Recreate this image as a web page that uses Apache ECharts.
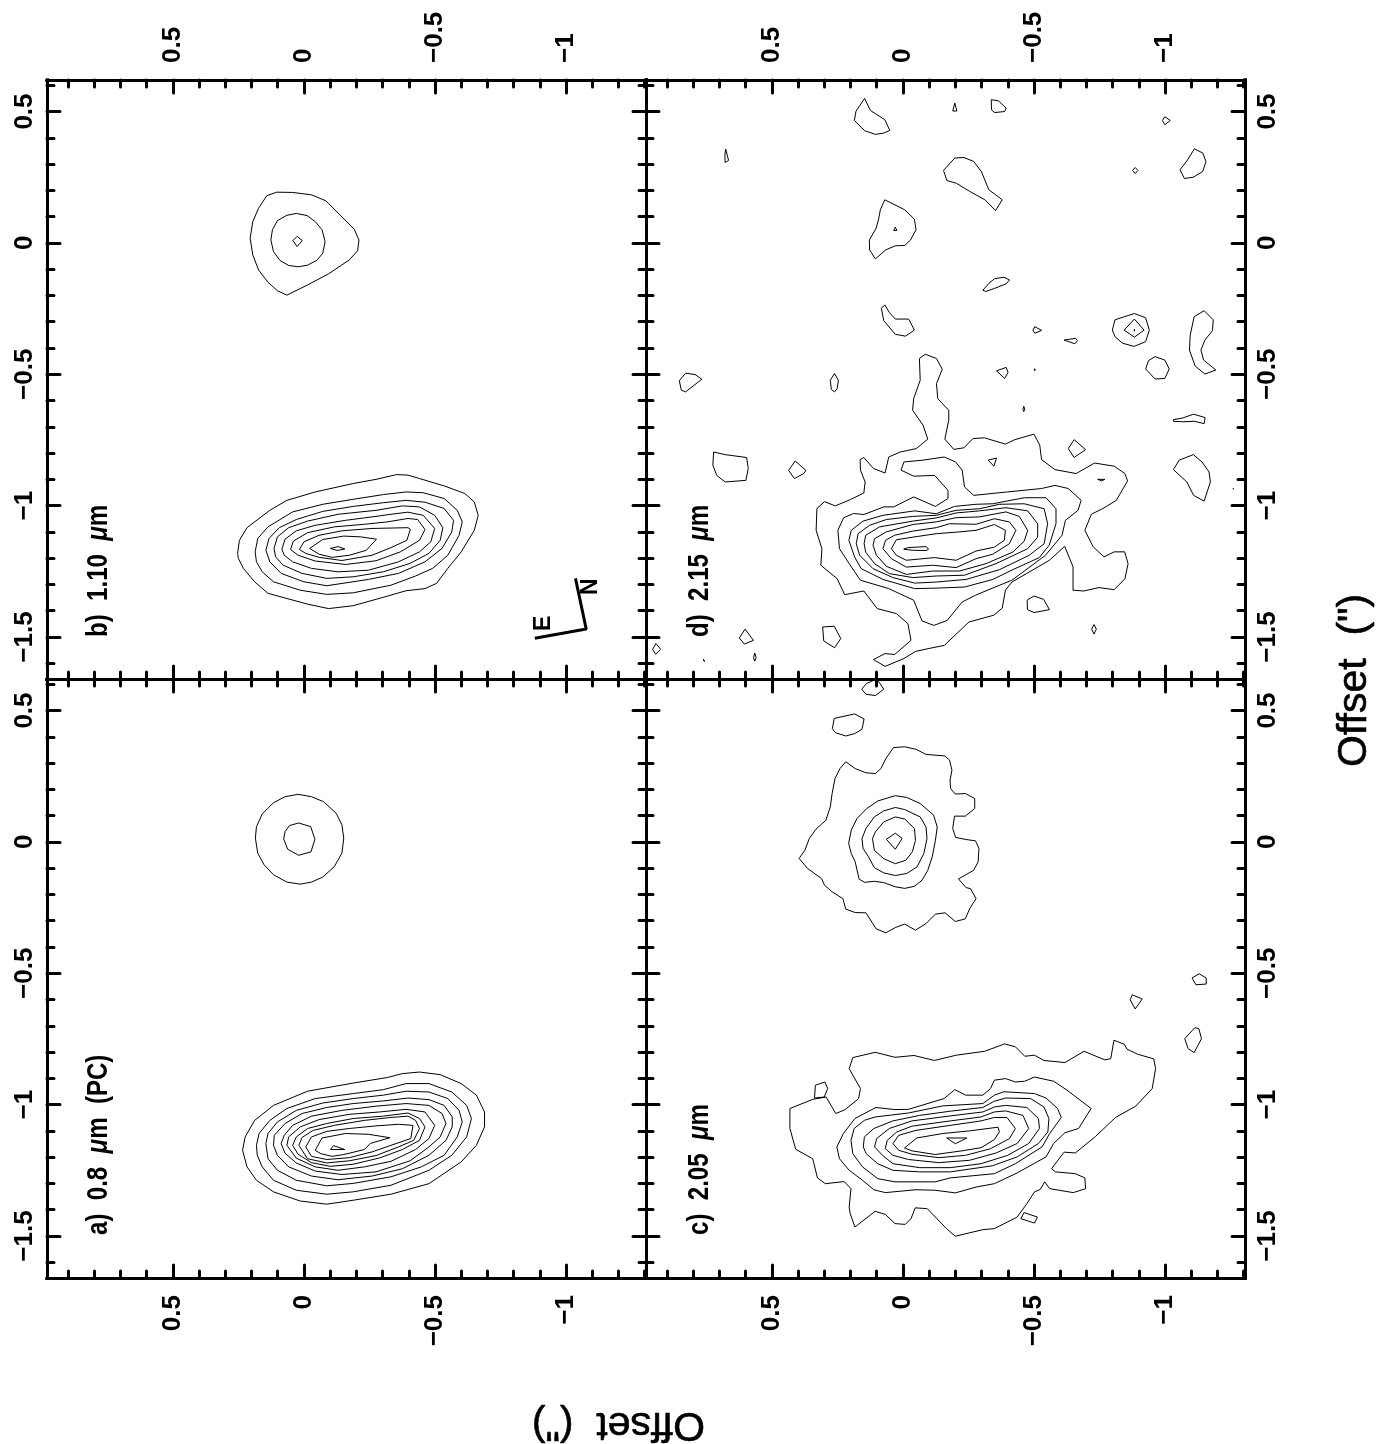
<!DOCTYPE html>
<html><head><meta charset="utf-8">
<style>html,body{margin:0;padding:0;background:#fff}#c{width:1377px;height:1444px}</style>
<script src="https://cdn.jsdelivr.net/npm/echarts@6/dist/echarts.min.js"></script>
</head><body><div id="c"></div>
<script>
// Tick values (arcseconds)
const xMajor=[0.5,0,-0.5,-1];
const yMajor=[0.5,0,-0.5,-1,-1.5];
const xMinor=[0.9,0.8,0.7,0.6,0.4,0.3,0.2,0.1,-0.1,-0.2,-0.3,-0.4,-0.6,-0.7,-0.8,-0.9,-1.1,-1.2,-1.3];
const yMinor=[0.6,0.4,0.3,0.2,0.1,-0.1,-0.2,-0.3,-0.4,-0.6,-0.7,-0.8,-0.9,-1.1,-1.2,-1.3,-1.4,-1.6];

// Panel a) 0.8 um (PC)
const a1=[[.022,.181],[.072,.172],[.116,.149],[.159,.106],[.181,.058],[.185,.014],[.176,-.043],[.152,-.087],[.116,-.125],[.065,-.153],[.014,-.161],[-.029,-.153],[-.072,-.134],[-.116,-.094],[-.145,-.043],[-.152,.014],[-.145,.065],[-.123,.109],[-.075,.153],[-.029,.172]];
const a2=[[.020,.072],[.055,.062],[.072,.039],[.077,.011],[.062,-.028],[.020,-.051],[-.027,-.038],[-.042,.010],[-.026,.058]];
const a3=[[.234,-1.174],[.224,-1.123],[.188,-1.060],[.116,-1.003],[-.014,-.949],[-.188,-.918],[-.318,-.897],[-.376,-.882],[-.441,-.876],[-.520,-.886],[-.600,-.920],[-.658,-.964],[-.689,-1.028],[-.689,-1.085],[-.658,-1.155],[-.600,-1.218],[-.477,-1.301],[-.332,-1.341],[-.188,-1.364],[-.087,-1.379],[.014,-1.367],[.116,-1.332],[.181,-1.288],[.217,-1.237]];
const a4=[[.181,-1.155],[.171,-1.110],[.130,-1.060],[.065,-1.015],[-.043,-.977],[-.188,-.958],[-.303,-.943],[-.390,-.920],[-.477,-.920],[-.564,-.952],[-.621,-1.003],[-.639,-1.053],[-.621,-1.123],[-.564,-1.193],[-.477,-1.250],[-.332,-1.307],[-.188,-1.332],[-.087,-1.341],[.029,-1.326],[.116,-1.288],[.159,-1.237],[.178,-1.193]];
const a5=[[.145,-1.148],[.137,-1.110],[.101,-1.066],[.029,-1.022],[-.072,-.994],[-.188,-.977],[-.303,-.964],[-.390,-.949],[-.477,-.952],[-.549,-.977],[-.592,-1.022],[-.604,-1.066],[-.585,-1.123],[-.535,-1.193],[-.448,-1.237],[-.332,-1.275],[-.188,-1.300],[-.087,-1.309],[.029,-1.288],[.101,-1.250],[.137,-1.206]];
const a6=[[.116,-1.155],[.113,-1.117],[.072,-1.072],[.007,-1.034],[-.087,-1.011],[-.188,-.996],[-.303,-.986],[-.397,-.975],[-.477,-.981],[-.535,-1.003],[-.566,-1.047],[-.566,-1.085],[-.542,-1.136],[-.477,-1.193],[-.376,-1.244],[-.260,-1.272],[-.130,-1.286],[-.029,-1.272],[.058,-1.237],[.101,-1.193]];
const a7=[[.087,-1.148],[.075,-1.117],[.043,-1.079],[-.029,-1.044],[-.145,-1.022],[-.275,-1.006],[-.390,-.996],[-.477,-1.003],[-.527,-1.034],[-.542,-1.072],[-.520,-1.123],[-.477,-1.161],[-.405,-1.214],[-.275,-1.256],[-.145,-1.266],[-.043,-1.253],[.029,-1.222],[.072,-1.185]];
const a8=[[.065,-1.155],[.058,-1.123],[.014,-1.085],[-.058,-1.057],[-.173,-1.037],[-.289,-1.028],[-.390,-1.018],[-.462,-1.028],[-.499,-1.079],[-.477,-1.129],[-.426,-1.171],[-.332,-1.216],[-.231,-1.237],[-.130,-1.250],[-.043,-1.237],[.029,-1.204]];
const a9=[[.043,-1.155],[.029,-1.123],[-.014,-1.091],[-.087,-1.072],[-.188,-1.053],[-.303,-1.044],[-.397,-1.032],[-.441,-1.053],[-.462,-1.085],[-.441,-1.136],[-.376,-1.171],[-.289,-1.203],[-.188,-1.227],[-.101,-1.235],[-.029,-1.221],[.022,-1.189]];
const a10=[[.019,-1.155],[.007,-1.125],[-.036,-1.098],[-.116,-1.079],[-.231,-1.060],[-.332,-1.049],[-.397,-1.044],[-.426,-1.060],[-.441,-1.091],[-.419,-1.136],[-.361,-1.161],[-.275,-1.194],[-.173,-1.214],[-.087,-1.222],[-.014,-1.206]];
const a11=[[-.007,-1.161],[-.029,-1.123],[-.087,-1.102],[-.173,-1.091],[-.275,-1.081],[-.361,-1.075],[-.416,-1.079],[-.408,-1.129],[-.332,-1.155],[-.260,-1.180],[-.173,-1.202],[-.087,-1.209],[-.029,-1.197]];
const a12=[[-.043,-1.174],[-.069,-1.127],[-.159,-1.110],[-.246,-1.113],[-.328,-1.126],[-.253,-1.148],[-.231,-1.171],[-.152,-1.190],[-.108,-1.197],[-.065,-1.187]];
const a13=[[-.101,-1.171],[-.113,-1.156],[-.156,-1.171]];
const contoursA=[a1,a2,a3,a4,a5,a6,a7,a8,a9,a10,a11,a12,a13];

// Panel b) 1.10 um
const b1=[[.065,-.199],[.101,-.182],[.137,-.150],[.173,-.103],[.195,-.046],[.205,.018],[.195,.081],[.173,.132],[.142,.179],[.104,.193],[.043,.192],[-.029,.183],[-.084,.160],[-.137,.107],[-.192,.052],[-.210,.011],[-.205,-.030],[-.173,-.065],[-.094,-.118],[-.014,-.160]];
const b2=[[.029,.112],[.065,.105],[.101,.085],[.120,.050],[.126,.011],[.116,-.033],[.091,-.067],[.058,-.086],[.022,-.091],[-.014,-.085],[-.051,-.065],[-.072,-.039],[-.081,.005],[-.069,.050],[-.043,.081],[-.012,.104]];
const b3=[[.026,.025],[.006,.009],[.026,-.014],[.042,.009]];
const b4=[[.253,-1.182],[.246,-1.132],[.217,-1.084],[.130,-1.018],[.065,-.980],[-.043,-.948],[-.188,-.916],[-.275,-.900],[-.354,-.882],[-.397,-.884],[-.441,-.897],[-.535,-.925],[-.614,-.954],[-.650,-.986],[-.665,-1.037],[-.650,-1.094],[-.600,-1.176],[-.549,-1.239],[-.506,-1.296],[-.462,-1.316],[-.390,-1.324],[-.303,-1.349],[-.188,-1.381],[-.094,-1.392],[-.014,-1.375],[.137,-1.334],[.188,-1.290],[.231,-1.239],[.250,-1.201]];
const b5=[[.186,-1.176],[.176,-1.125],[.137,-1.081],[.043,-1.024],[-.072,-.995],[-.188,-.976],[-.303,-.958],[-.390,-.948],[-.455,-.951],[-.535,-.973],[-.585,-1.018],[-.604,-1.062],[-.592,-1.113],[-.549,-1.189],[-.491,-1.239],[-.426,-1.268],[-.332,-1.303],[-.188,-1.332],[-.087,-1.338],[.014,-1.322],[.116,-1.290],[.159,-1.252],[.181,-1.214]];
const b6=[[.145,-1.170],[.133,-1.125],[.094,-1.084],[.029,-1.053],[-.072,-1.022],[-.188,-1.003],[-.303,-.989],[-.390,-.980],[-.462,-.987],[-.535,-1.011],[-.571,-1.056],[-.564,-1.100],[-.527,-1.163],[-.462,-1.214],[-.361,-1.258],[-.246,-1.281],[-.087,-1.305],[0,-1.290],[.087,-1.258],[.130,-1.214]];
const b7=[[.114,-1.163],[.101,-1.119],[.058,-1.084],[-.014,-1.059],[-.130,-1.033],[-.275,-1.018],[-.376,-1.001],[-.441,-1.005],[-.499,-1.037],[-.530,-1.084],[-.520,-1.132],[-.477,-1.182],[-.405,-1.220],[-.303,-1.252],[-.188,-1.271],[-.087,-1.277],[.007,-1.258],[.079,-1.227],[.108,-1.195]];
const b8=[[.084,-1.166],[.072,-1.128],[.029,-1.096],[-.043,-1.075],[-.159,-1.056],[-.275,-1.041],[-.332,-1.033],[-.397,-1.025],[-.455,-1.037],[-.499,-1.087],[-.484,-1.138],[-.441,-1.176],[-.361,-1.214],[-.246,-1.246],[-.130,-1.252],[-.029,-1.239],[.043,-1.214],[.075,-1.189]];
const b9=[[.051,-1.167],[.040,-1.135],[-.014,-1.103],[-.116,-1.081],[-.231,-1.071],[-.318,-1.062],[-.397,-1.049],[-.434,-1.053],[-.462,-1.091],[-.441,-1.132],[-.368,-1.176],[-.275,-1.210],[-.159,-1.224],[-.043,-1.211],[.022,-1.189]];
const b10=[[.017,-1.167],[0,-1.138],[-.058,-1.113],[-.145,-1.096],[-.260,-1.087],[-.397,-1.084],[-.406,-1.090],[-.393,-1.132],[-.332,-1.160],[-.260,-1.189],[-.145,-1.209],[-.058,-1.197],[-.007,-1.182]];
const b11=[[-.022,-1.163],[-.072,-1.129],[-.152,-1.116],[-.217,-1.119],[-.277,-1.128],[-.238,-1.170],[-.173,-1.189],[-.108,-1.197],[-.058,-1.185]];
const b12=[[-.101,-1.163],[-.130,-1.156],[-.156,-1.165],[-.127,-1.171]];
const contoursB=[b1,b2,b3,b4,b5,b6,b7,b8,b9,b10,b11,b12];
const compass=[[-.881,-1.505],[-1.077,-1.470],[-1.036,-1.277]];

// Panel c) 2.05 um
const c1=[[.139,.603],[.124,.609],[.102,.619],[.092,.609],[.073,.581],[.105,.557],[.141,.562],[.157,.581]];
const c2=[[.262,.470],[.184,.487],[.148,.468],[.156,.429],[.184,.412],[.218,.403],[.258,.416],[.269,.431]];
const c3=[[.036,.359],[-.007,.362],[-.051,.352],[-.088,.333],[-.161,.327],[-.178,.311],[-.187,.273],[-.180,.235],[-.182,.203],[-.200,.182],[-.238,.184],[-.274,.165],[-.274,.127],[-.238,.098],[-.197,.098],[-.190,.051],[-.201,.017],[-.241,.009],[-.277,.004],[-.290,-.025],[-.287,-.076],[-.270,-.108],[-.212,-.141],[-.241,-.174],[-.258,-.178],[-.279,-.216],[-.255,-.254],[-.238,-.293],[-.200,-.303],[-.161,-.270],[-.124,-.275],[-.088,-.311],[-.048,-.336],[-.007,-.313],[.029,-.326],[.065,-.346],[.102,-.331],[.141,-.270],[.182,-.269],[.218,-.256],[.229,-.216],[.270,-.190],[.299,-.165],[.310,-.140],[.364,-.101],[.396,-.063],[.374,-.032],[.357,.013],[.332,.048],[.294,.082],[.277,.133],[.270,.184],[.259,.241],[.240,.279],[.218,.305],[.182,.279],[.141,.263],[.105,.260],[.084,.279],[.065,.317]];
const c4=[[.029,.176],[-.015,.169],[-.066,.146],[-.117,.102],[-.131,.057],[-.124,.006],[-.112,-.057],[-.095,-.108],[-.073,-.146],[-.044,-.169],[-.007,-.177],[.029,-.171],[.073,-.155],[.109,-.150],[.146,-.154],[.167,-.142],[.182,-.076],[.197,-.044],[.207,-.006],[.197,.045],[.175,.089],[.138,.127],[.095,.156]];
const c5=[[.029,.131],[-.007,.123],[-.066,.095],[-.088,.057],[-.092,.013],[-.080,-.044],[-.054,-.095],[-.015,-.120],[.029,-.128],[.073,-.118],[.109,-.098],[.131,-.057],[.152,-.025],[.156,.013],[.141,.051],[.109,.095],[.073,.118]];
const c6=[[.029,.095],[-.007,.087],[-.044,.051],[-.048,.006],[-.036,-.038],[-.011,-.070],[.029,-.083],[.073,-.064],[.109,-.032],[.116,.013],[.105,.038],[.073,.076]];
const c7=[[.029,.033],[.003,.013],[.029,-.028],[.063,.010]];
const c8=[[-.875,-.582],[-.913,-.598],[-.886,-.636],[-.867,-.601]];
const c9=[[-1.130,-.502],[-1.157,-.518],[-1.157,-.541],[-1.118,-.544],[-1.103,-.518]];
const c10=[[-1.114,-.707],[-1.129,-.711],[-1.139,-.749],[-1.111,-.802],[-1.088,-.787],[-1.075,-.749]];
const c11=[[.191,-.821],[.106,-.801],[.030,-.820],[-.042,-.813],[-.120,-.832],[-.203,-.812],[-.312,-.797],[-.388,-.769],[-.429,-.780],[-.465,-.816],[-.502,-.812],[-.538,-.832],[-.618,-.840],[-.691,-.797],[-.771,-.830],[-.793,-.825],[-.805,-.755],[-.844,-.770],[-.855,-.789],[-.895,-.808],[-.957,-.826],[-.964,-.863],[-.951,-.939],[-.888,-1.006],[-.811,-1.049],[-.735,-1.121],[-.658,-1.184],[-.615,-1.181],[-.567,-1.244],[-.582,-1.256],[-.658,-1.263],[-.694,-1.279],[-.697,-1.320],[-.650,-1.335],[-.560,-1.320],[-.541,-1.294],[-.524,-1.323],[-.502,-1.332],[-.473,-1.377],[-.436,-1.428],[-.349,-1.472],[-.305,-1.476],[-.200,-1.501],[-.166,-1.472],[-.093,-1.396],[-.047,-1.393],[-.031,-1.434],[-.009,-1.456],[.030,-1.453],[.067,-1.418],[.106,-1.406],[.183,-1.466],[.201,-1.415],[.205,-1.390],[.198,-1.320],[.224,-1.293],[.296,-1.301],[.326,-1.279],[.344,-1.206],[.409,-1.170],[.431,-1.091],[.431,-1.015],[.344,-.980],[.293,-.971],[.256,-1.034],[.220,-1.019],[.169,-.977],[.162,-.939],[.205,-.863]];
const c12=[[.297,-.914],[.287,-.939],[.300,-.971],[.337,-.975],[.334,-.926]];
const c13=[[-.462,-1.411],[-.513,-1.428],[-.502,-1.451],[-.450,-1.434]];
const c14=[[.103,-1.011],[.030,-1.019],[-.021,-1.018],[-.157,-.977],[-.198,-.943],[-.239,-.964],[-.305,-.964],[-.334,-.939],[-.349,-.907],[-.392,-.901],[-.429,-.914],[-.465,-.911],[-.502,-.895],[-.575,-.911],[-.626,-.945],[-.718,-1.015],[-.670,-1.091],[-.618,-1.107],[-.575,-1.148],[-.546,-1.199],[-.436,-1.260],[-.349,-1.301],[-.283,-1.313],[-.200,-1.336],[-.123,-1.326],[-.050,-1.324],[.067,-1.335],[.111,-1.324],[.154,-1.288],[.205,-1.250],[.242,-1.206],[.252,-1.161],[.227,-1.110],[.183,-1.053]];
const c15=[[.198,-1.136],[.186,-1.091],[.147,-1.060],[.106,-1.047],[-.021,-1.032],[-.152,-1.005],[-.305,-.996],[-.349,-.964],[-.385,-.951],[-.502,-.958],[-.546,-.975],[-.590,-1.015],[-.604,-1.049],[-.560,-1.110],[-.531,-1.161],[-.429,-1.225],[-.349,-1.263],[-.181,-1.279],[-.123,-1.294],[.030,-1.294],[.096,-1.282],[.154,-1.237],[.191,-1.187]];
const c16=[[.151,-1.161],[.147,-1.123],[.111,-1.091],[.038,-1.062],[-.064,-1.041],[-.181,-1.025],[-.305,-1.011],[-.349,-.987],[-.392,-.975],[-.487,-.977],[-.538,-1.009],[-.557,-1.053],[-.553,-1.104],[-.517,-1.148],[-.436,-1.199],[-.341,-1.233],[-.181,-1.256],[-.064,-1.256],[.038,-1.250],[.096,-1.225],[.140,-1.187]];
const c17=[[.108,-1.161],[.100,-1.129],[.052,-1.091],[-.035,-1.062],[-.181,-1.043],[-.305,-1.028],[-.349,-1.009],[-.392,-1.003],[-.473,-1.011],[-.517,-1.053],[-.521,-1.091],[-.480,-1.148],[-.400,-1.193],[-.298,-1.225],[-.181,-1.240],[-.064,-1.240],[.038,-1.225],[.078,-1.193]];
const c18=[[.067,-1.168],[.060,-1.136],[.023,-1.104],[-.035,-1.082],[-.181,-1.062],[-.298,-1.047],[-.349,-1.028],[-.392,-1.024],[-.458,-1.041],[-.480,-1.091],[-.436,-1.148],[-.356,-1.184],[-.254,-1.212],[-.137,-1.221],[-.021,-1.209],[.038,-1.193]];
const c19=[[.038,-1.148],[.016,-1.117],[-.050,-1.098],[-.181,-1.079],[-.298,-1.062],[-.349,-1.049],[-.397,-1.049],[-.429,-1.091],[-.407,-1.129],[-.334,-1.168],[-.239,-1.193],[-.137,-1.202],[-.035,-1.189],[.016,-1.174]];
const c20=[[-.006,-1.165],[-.053,-1.127],[-.152,-1.110],[-.254,-1.100],[-.363,-1.086],[-.368,-1.104],[-.349,-1.133],[-.298,-1.164],[-.225,-1.176],[-.123,-1.190],[-.035,-1.176]];
const c21=[[-.167,-1.127],[-.244,-1.127],[-.200,-1.149]];
const contoursC=[c1,c2,c3,c4,c5,c6,c7,c8,c9,c10,c11,c12,c13,c14,c15,c16,c17,c18,c19,c20,c21];

// Panel d) 2.15 um
const d1=[[.146,.550],[.124,.504],[.069,.469],[.050,.428],[.073,.418],[.105,.413],[.146,.427],[.185,.466],[.179,.501]];
const d2=[[-.198,.532],[-.206,.502],[-.190,.502]];
const d3=[[-.337,.545],[-.364,.541],[-.394,.513],[-.388,.500],[-.350,.496],[-.338,.506]];
const d4=[[-.999,.480],[-1.020,.466],[-.999,.450],[-.990,.466]];
const d5=[[.676,.357],[.665,.314],[.678,.306],[.679,.335]];
const d6=[[-.198,.323],[-.233,.325],[-.270,.310],[-.299,.272],[-.328,.202],[-.354,.183],[-.379,.164],[-.353,.123],[-.313,.164],[-.255,.196],[-.204,.227],[-.168,.237],[-.155,.276]];
const d7=[[-1.112,.358],[-1.144,.342],[-1.156,.310],[-1.144,.272],[-1.108,.250],[-1.074,.245],[-1.057,.278],[-1.086,.316]];
const d8=[[-.886,.287],[-.897,.276],[-.886,.264],[-.876,.276]];
const d9=[[.069,.164],[-.007,.126],[-.044,.090],[-.050,.050],[-.029,.011],[-.007,-.010],[.029,-.011],[.066,-.027],[.105,-.061],[.127,-.027],[.128,.011],[.102,.056],[.092,.094],[.086,.126]];
const d10=[[.029,.060],[.023,.047],[.035,.047]];
const d11=[[-.350,-.136],[-.386,-.131],[-.407,-.141],[-.394,-.156],[-.350,-.173],[-.316,-.185],[-.305,-.180],[-.328,-.154]];
const d12=[[.069,-.236],[.051,-.266],[.029,-.290],[-.022,-.290],[-.044,-.332],[-.010,-.355],[.029,-.348],[.073,-.296],[.082,-.249]];
const d13=[[-.503,-.319],[-.529,-.333],[-.503,-.344],[-.496,-.332]];
const d14=[[-.615,-.370],[-.659,-.363],[-.666,-.372],[-.656,-.384]];
const d15=[[-.883,-.269],[-.926,-.285],[-.940,-.332],[-.926,-.376],[-.882,-.394],[-.838,-.382],[-.809,-.357],[-.799,-.332],[-.809,-.293],[-.845,-.281]];
const d16=[[-.883,-.290],[-.920,-.332],[-.883,-.359],[-.844,-.332]];
const d17=[[-.883,-.328],[-.886,-.332],[-.883,-.336],[-.880,-.332]];
const d18=[[-1.149,-.258],[-1.184,-.293],[-1.181,-.334],[-1.152,-.370],[-1.137,-.408],[-1.147,-.446],[-1.194,-.484],[-1.152,-.499],[-1.115,-.469],[-1.093,-.408],[-1.096,-.351],[-1.111,-.281]];
const d19=[[-.962,-.433],[-.999,-.446],[-1.016,-.480],[-.999,-.516],[-.962,-.518],[-.926,-.480],[-.937,-.448]];
const d20=[[-.394,-.474],[-.401,-.493],[-.388,-.516],[-.357,-.487]];
const d21=[[-.503,-.479],[-.506,-.483],[-.503,-.487],[-.500,-.483]];
const d22=[[.829,-.496],[.793,-.501],[.767,-.519],[.829,-.567],[.845,-.561],[.853,-.525]];
const d23=[[.261,-.497],[.246,-.523],[.251,-.555],[.261,-.567],[.273,-.558],[.277,-.523]];
const d24=[[-.461,-.622],[-.465,-.633],[-.461,-.642],[-.458,-.633]];
const d25=[[-1.032,-.673],[-1.069,-.666],[-1.109,-.652],[-1.153,-.665],[-1.149,-.688],[-1.112,-.679],[-1.069,-.681],[-1.032,-.679]];
const d26=[[.722,-.796],[.678,-.806],[.596,-.817],[.590,-.859],[.599,-.904],[.678,-.910],[.710,-.885],[.725,-.846]];
const d27=[[.411,-.830],[.370,-.866],[.378,-.878],[.414,-.897],[.436,-.866]];
const d28=[[-.325,-.827],[-.357,-.819],[-.347,-.850]];
const d29=[[-.653,-.749],[-.697,-.787],[-.653,-.817],[-.631,-.783]];
const d30=[[-1.108,-.806],[-1.141,-.834],[-1.168,-.872],[-1.173,-.910],[-1.149,-.983],[-1.109,-.961],[-1.083,-.910],[-1.032,-.863],[-1.054,-.827]];
const d31=[[-.743,-.900],[-.770,-.900],[-.758,-.906]];
const d32=[[-1.259,-.933],[-1.262,-.933],[-1.262,-.939],[-1.259,-.939]];
const d33=[[-.500,-1.344],[-.537,-1.357],[-.559,-1.396],[-.500,-1.407],[-.475,-1.396],[-.474,-1.360]];
const d34=[[.306,-1.462],[.262,-1.459],[.237,-1.506],[.261,-1.541],[.302,-1.515]];
const d35=[[-.729,-1.453],[-.738,-1.470],[-.729,-1.489],[-.720,-1.470]];
const d36=[[.602,-1.470],[.570,-1.513],[.605,-1.527],[.624,-1.504]];
const d37=[[.942,-1.525],[.924,-1.547],[.943,-1.566],[.955,-1.547]];
const d38=[[.761,-1.585],[.754,-1.585],[.757,-1.594]];
const d39=[[.565,-1.561],[.560,-1.579],[.565,-1.592],[.570,-1.579]];
const d40=[[-.085,-.424],[-.063,-.440],[-.066,-.523],[-.041,-.593],[-.037,-.637],[-.077,-.694],[-.095,-.747],[-.051,-.783],[.010,-.796],[.054,-.815],[.068,-.876],[.112,-.859],[.149,-.817],[.163,-.825],[.162,-.865],[.144,-.910],[.149,-.952],[.200,-.977],[.258,-1.001],[.299,-.985],[.328,-1.011],[.331,-1.094],[.309,-1.164],[.313,-1.227],[.251,-1.278],[.222,-1.339],[.149,-1.325],[.098,-1.392],[.025,-1.411],[-.019,-1.449],[-.031,-1.513],[.032,-1.567],[.068,-1.563],[.112,-1.586],[.068,-1.612],[-.004,-1.582],[-.048,-1.555],[-.099,-1.544],[-.158,-1.532],[-.252,-1.443],[-.347,-1.417],[-.379,-1.390],[-.391,-1.322],[-.416,-1.291],[-.471,-1.259],[-.559,-1.208],[-.617,-1.155],[-.649,-1.233],[-.649,-1.322],[-.690,-1.325],[-.748,-1.312],[-.806,-1.320],[-.847,-1.278],[-.859,-1.221],[-.846,-1.176],[-.806,-1.176],[-.767,-1.195],[-.726,-1.157],[-.694,-1.094],[-.719,-1.033],[-.763,-1.011],[-.814,-.980],[-.857,-.906],[-.847,-.878],[-.806,-.850],[-.731,-.838],[-.661,-.878],[-.580,-.863],[-.529,-.825],[-.522,-.770],[-.500,-.728],[-.427,-.749],[-.391,-.766],[-.311,-.742],[-.267,-.745],[-.233,-.780],[-.194,-.786],[-.160,-.747],[-.175,-.675],[-.175,-.637],[-.133,-.593],[-.128,-.536],[-.150,-.481],[-.128,-.440]];
const d41=[[.007,-.865],[-.004,-.834],[-.077,-.827],[-.158,-.815],[-.201,-.834],[-.226,-.865],[-.235,-.929],[-.270,-.961],[-.398,-.948],[-.529,-.935],[-.580,-.923],[-.631,-.935],[-.680,-.980],[-.668,-1.018],[-.620,-1.056],[-.607,-1.113],[-.544,-1.189],[-.416,-1.284],[-.347,-1.312],[-.277,-1.341],[-.226,-1.367],[-.169,-1.437],[-.118,-1.456],[-.073,-1.439],[-.041,-1.360],[.054,-1.316],[.162,-1.284],[.205,-1.221],[.242,-1.164],[.248,-1.094],[.226,-1.046],[.188,-1.030],[.149,-1.034],[.073,-1.005],[.035,-1.005],[-.041,-.967],[-.124,-1.003],[-.172,-.973],[-.172,-.942],[-.121,-.885],[-.041,-.888]];
const d42=[[.206,-1.132],[.197,-1.094],[.152,-1.059],[.076,-1.037],[-.045,-1.020],[-.127,-1.031],[-.197,-1.003],[-.279,-.995],[-.343,-.993],[-.463,-.970],[-.546,-.970],[-.584,-1.012],[-.584,-1.069],[-.558,-1.151],[-.520,-1.198],[-.419,-1.244],[-.343,-1.281],[-.235,-1.310],[-.127,-1.314],[-.045,-1.316],[.076,-1.281],[.159,-1.240],[.184,-1.196]];
const d43=[[.178,-1.145],[.171,-1.107],[.127,-1.075],[.063,-1.053],[-.038,-1.041],[-.127,-1.037],[-.203,-1.018],[-.292,-1.012],[-.368,-.995],[-.463,-.993],[-.539,-1.012],[-.552,-1.069],[-.539,-1.145],[-.482,-1.189],[-.368,-1.244],[-.241,-1.281],[-.127,-1.291],[-.045,-1.295],[.038,-1.274],[.114,-1.240],[.165,-1.189]];
const d44=[[.148,-1.145],[.142,-1.113],[.089,-1.081],[-.038,-1.059],[-.127,-1.047],[-.203,-1.028],[-.292,-1.020],[-.393,-1.008],[-.476,-1.020],[-.514,-1.069],[-.514,-1.120],[-.476,-1.164],[-.355,-1.221],[-.235,-1.265],[-.127,-1.268],[-.038,-1.274],[.051,-1.259],[.108,-1.221],[.142,-1.177]];
const d45=[[.114,-1.151],[.108,-1.126],[.063,-1.100],[-.038,-1.072],[-.127,-1.062],[-.203,-1.046],[-.292,-1.043],[-.393,-1.024],[-.444,-1.041],[-.476,-1.094],[-.463,-1.135],[-.419,-1.177],[-.317,-1.221],[-.216,-1.249],[-.114,-1.249],[-.013,-1.262],[.063,-1.231],[.101,-1.189]];
const d46=[[.076,-1.164],[.066,-1.132],[.032,-1.113],[-.038,-1.097],[-.127,-1.084],[-.178,-1.069],[-.279,-1.071],[-.349,-1.050],[-.406,-1.062],[-.431,-1.094],[-.406,-1.145],[-.343,-1.185],[-.279,-1.202],[-.203,-1.236],[-.114,-1.227],[-.013,-1.234],[.044,-1.202]];
const d47=[[.044,-1.164],[.025,-1.130],[-.038,-1.120],[-.127,-1.107],[-.216,-1.100],[-.279,-1.094],[-.349,-1.072],[-.391,-1.094],[-.387,-1.132],[-.349,-1.158],[-.279,-1.173],[-.203,-1.208],[-.121,-1.198],[-.013,-1.208],[.025,-1.189]];
const d48=[[-.003,-1.166],[-.019,-1.160],[-.089,-1.156],[-.098,-1.166],[-.089,-1.171],[-.038,-1.170]];
const contoursD=[d1,d2,d3,d4,d5,d6,d7,d8,d9,d10,d11,d12,d13,d14,d15,d16,d17,d18,d19,d20,d21,d22,d23,d24,d25,d26,d27,d28,d29,d30,d31,d32,d33,d34,d35,d36,d37,d38,d39,d40,d41,d42,d43,d44,d45,d46,d47,d48];

const FONT='"Liberation Sans"';
const X_EXT=[-1.305,.98], Y_EXT=[-1.66,.62];
const panels=[
 {c:contoursB,left:47,top:80,  xl:'top',   yl:'left'},
 {c:contoursA,left:47,top:679, xl:'bottom',yl:'left'},
 {c:contoursD,left:646,top:80, xl:'top',   yl:'right'},
 {c:contoursC,left:646,top:679,xl:'bottom',yl:'right'}
];
const fmt=v=>String(v).replace('-','\u2212');
const grids=[],xAxes=[],yAxes=[],series=[];
function axisBase(g,pos,ext,major,labelled,len,margin){
  return {type:'value',gridIndex:g,position:pos,min:ext[0],max:ext[1],scale:true,
    axisLine:{show:true,onZero:false,lineStyle:{width:3,color:'#000',cap:'square'}},
    splitLine:{show:false},
    axisTick:{show:true,inside:true,length:len,customValues:major,lineStyle:{width:3,color:'#000',cap:'round'}},
    axisLabel:labelled?{show:true,customValues:major,rotate:pos==='top'?-90:90,margin:margin,formatter:fmt,
      hideOverlap:false,showMinLabel:true,showMaxLabel:true,
      fontFamily:FONT,fontWeight:'bold',fontSize:26,color:'#000'}:{show:false},
    silent:true};
}
panels.forEach((p,g)=>{
  grids.push({left:p.left,top:p.top,width:599,height:599,containLabel:false,show:false});
  const firstX=xAxes.length, firstY=yAxes.length;
  ['top','bottom'].forEach(pos=>{
    xAxes.push(Object.assign(axisBase(g,pos,X_EXT,xMajor,pos===p.xl,13,17),{inverse:true}));
    xAxes.push(Object.assign(axisBase(g,pos,X_EXT,xMinor,false,7,0),{inverse:true}));
  });
  ['left','right'].forEach(pos=>{
    yAxes.push(axisBase(g,pos,Y_EXT,yMajor,pos===p.yl,13,pos==='left'?9:10));
    yAxes.push(axisBase(g,pos,Y_EXT,yMinor,false,7,0));
  });
  p.c.forEach(c=>series.push({type:'line',xAxisIndex:firstX,yAxisIndex:firstY,
    data:c.concat([c[0]]),showSymbol:false,symbol:'none',silent:true,animation:false,clip:true,
    lineStyle:{width:1,color:'#000'}}));
  if(p.c===contoursB) series.push({type:'line',xAxisIndex:firstX,yAxisIndex:firstY,data:compass,
    showSymbol:false,symbol:'none',silent:true,animation:false,lineStyle:{width:3,color:'#000'}});
});
function panelLabel(x,y,text){
  return {type:'text',x,y,rotation:Math.PI/2,scaleX:.83,silent:true,style:{text,align:'left',verticalAlign:'middle',
    font:'bold 29px '+FONT,fill:'#000',rich:{i:{font:'italic bold 29px '+FONT,fill:'#000'}}}};
}
function offsetTitle(x,y,rot){
  return {type:'text',x,y,rotation:rot,silent:true,style:{text:'Offset  (")',align:'left',verticalAlign:'middle',
    font:'41px '+FONT,fill:'#000',stroke:'#000',lineWidth:.6}};
}
const graphic=[
 panelLabel(99,637,'b)  1.10  {i|\u03bc}m'),
 panelLabel(99,1235,'a)  0.8  {i|\u03bc}m  (PC)'),
 panelLabel(700,1235,'c)  2.05  {i|\u03bc}m'),
 panelLabel(700,637,'d)  2.15  {i|\u03bc}m'),
 {type:'text',x:544,y:631,rotation:Math.PI/2,silent:true,style:{text:'E',align:'left',verticalAlign:'middle',font:'bold 23px '+FONT,fill:'#000'}},
 {type:'text',x:591,y:595,rotation:Math.PI/2,silent:true,style:{text:'N',align:'left',verticalAlign:'middle',font:'bold 23px '+FONT,fill:'#000'}},
 offsetTitle(1355,767,Math.PI/2),
 offsetTitle(705,1424,Math.PI)
];
const chart=echarts.init(document.getElementById('c'),null,{renderer:'canvas',width:1377,height:1444});
chart.setOption({animation:false,backgroundColor:'#fff',tooltip:{show:false},grid:grids,xAxis:xAxes,yAxis:yAxes,series,graphic});
</script></body></html>
